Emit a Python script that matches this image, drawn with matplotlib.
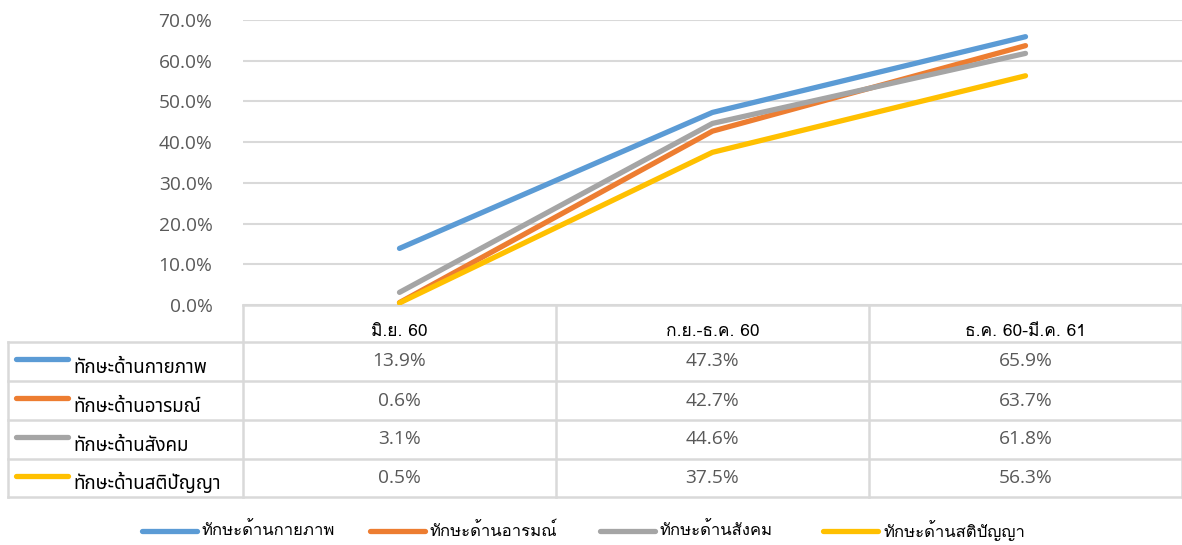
import matplotlib
matplotlib.use("Agg")
import matplotlib.pyplot as plt
from matplotlib import font_manager
from matplotlib.ft2font import FT2Font

categories = ["มิ.ย. 60", "ก.ย.-ธ.ค. 60", "ธ.ค. 60-มี.ค. 61"]
series_names = ["ทักษะด้านกายภาพ", "ทักษะด้านอารมณ์", "ทักษะด้านสังคม", "ทักษะด้านสติปัญญา"]
physical = [13.9, 47.3, 65.9]
emotional = [0.6, 42.7, 63.7]
social = [3.1, 44.6, 61.8]
intellect = [0.5, 37.5, 56.3]
series_values = [physical, emotional, social, intellect]
colors = ["#5B9BD5", "#ED7D31", "#A5A5A5", "#FFC000"]
yticks = [0, 10, 20, 30, 40, 50, 60, 70]


def find_thai(prefer):
    found = {}
    for f in font_manager.fontManager.ttflist:
        try:
            ft = FT2Font(f.fname)
            if ft.get_char_index(ord("ก")) and ft.get_char_index(ord("ั")):
                found.setdefault(f.name, f.fname)
        except Exception:
            pass
    for p in prefer:
        if p in found:
            return p
    if found:
        return sorted(found)[0]
    return "DejaVu Sans"


thai_serif = find_thai(["TH Sarabun New", "Norasi", "Kinnari", "Garuda", "Loma", "Noto Serif Thai", "Noto Sans Thai"])
thai_sans = find_thai(["Tahoma", "Noto Sans Thai", "Loma", "Garuda", "Umpush", "Waree", "Norasi"])
num_font = ["Open Sans", "DejaVu Sans"]

W, H = 1182, 545
fig = plt.figure(figsize=(W / 100, H / 100), dpi=100)

# pixel-based layout helper axes
lay = fig.add_axes([0, 0, 1, 1])
lay.set_xlim(0, W)
lay.set_ylim(H, 0)
lay.axis("off")

x_left, x_right = 243, 1182
y_top, y_bottom = 20, 305
ax = fig.add_axes([x_left / W, 1 - y_bottom / H, (x_right - x_left) / W, (y_bottom - y_top) / H])
ax.set_facecolor("none")
n = len(categories)
for vals, c in zip(series_values, colors):
    ax.plot(range(n), vals, color=c, lw=3.8, solid_capstyle="round", solid_joinstyle="round", zorder=3)
ax.set_xlim(-0.5, n - 0.5)
ax.set_ylim(0, 70)
ax.set_yticks(yticks)
ax.set_yticklabels([f"{v:.1f}%" for v in yticks], color="#595959", fontsize=13.8, family=num_font)
ax.tick_params(axis="y", length=0, pad=22)
ax.set_xticks([])
ax.grid(axis="y", color="#d9d9d9", lw=1.5)
ax.set_axisbelow(True)
for s in ax.spines.values():
    s.set_visible(False)

# table
gc = "#d9d9d9"
tlw = 1.8
col_w = (x_right - x_left) / n
row_edges = [305, 342, 381, 420, 459, 497]
label_left = 8
# header top line
lay.plot([x_left, x_right], [row_edges[0], row_edges[0]], color=gc, lw=tlw)
# horizontal row lines
for y in row_edges[1:]:
    lay.plot([label_left, x_right], [y, y], color=gc, lw=tlw)
# vertical lines
lay.plot([label_left, label_left], [row_edges[1], row_edges[-1]], color=gc, lw=tlw)
for i in range(n + 1):
    x = x_left + i * col_w
    lay.plot([x, x], [row_edges[0], row_edges[-1]], color=gc, lw=tlw)

for i, cat in enumerate(categories):
    cx = x_left + (i + 0.5) * col_w
    lay.text(cx, row_edges[1] - 2, cat, ha="center", va="bottom", fontsize=12.5,
             family=[thai_serif, "DejaVu Sans"], color="black")

for r, (name, vals, c) in enumerate(zip(series_names, series_values, colors)):
    y0, y1 = row_edges[r + 1], row_edges[r + 2]
    ym = (y0 + y1) / 2
    lay.plot([16, 68], [y0 + 17, y0 + 17], color=c, lw=3.8, solid_capstyle="round")
    lay.text(73, y1 - 4, name, ha="left", va="bottom", fontsize=13.5,
             family=[thai_sans, "DejaVu Sans"], color="black")
    for i, v in enumerate(vals):
        cx = x_left + (i + 0.5) * col_w
        lay.text(cx, ym, f"{v:.1f}%", ha="center", va="center", fontsize=13.8,
                 family=num_font, color="#595959")

# bottom legend
leg_x = [142, 370, 600, 823]
for x, name, c in zip(leg_x, series_names, colors):
    lay.plot([x, x + 55], [531, 531], color=c, lw=3.8, solid_capstyle="round")
    lay.text(x + 60, 531, name, ha="left", va="center", fontsize=12,
             family=[thai_serif, "DejaVu Sans"], color="black")

fig.savefig("out.png", dpi=100)
